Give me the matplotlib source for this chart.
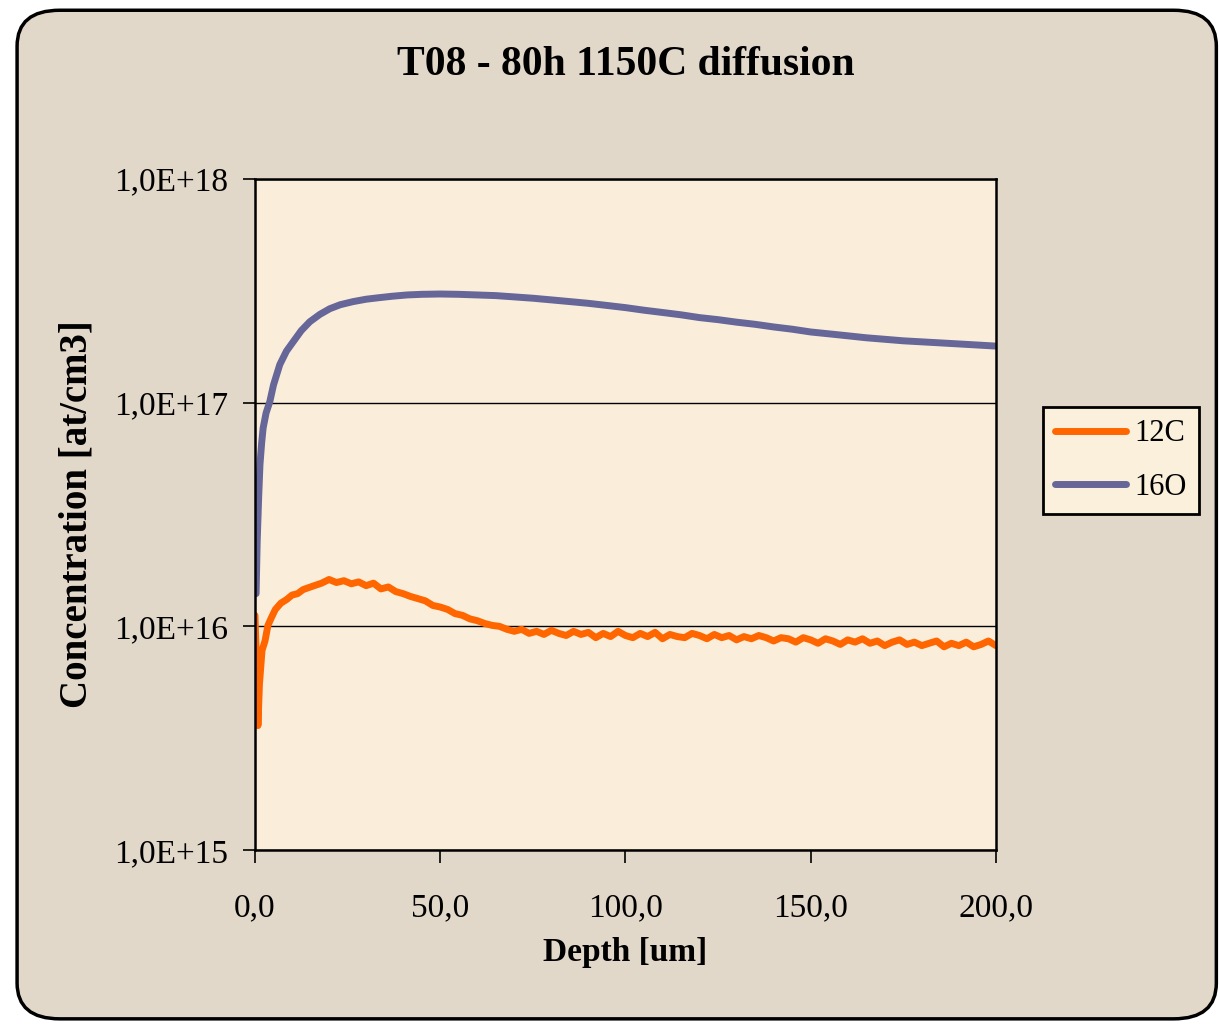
'''
T08 - 80h 1150C diffusion profile (12C and 16O), log scale
'''

import matplotlib.pyplot as plt
from matplotlib.patches import FancyBboxPatch
from matplotlib.ticker import FixedLocator, NullLocator

# 16O profile
o_depth = [0.3, 0.6, 1.0, 1.35, 1.8, 2.2, 3.0, 4.0, 5.0, 6.7, 8.5, 10.3, 12.5,
           14.8, 17.5, 20.2, 23, 26.5, 30, 33, 37, 41, 45, 50, 55, 60, 65, 70,
           75, 80, 85, 90, 95, 100, 105, 110, 115, 120, 125, 130, 135, 140,
           145, 150, 155, 160, 165, 170, 175, 180, 185, 190, 195, 200]
o_conc = [1.4e16, 2.4e16, 3.8e16, 5.3e16, 6.6e16, 7.7e16, 9.0e16, 1.01e17,
          1.2e17, 1.48e17, 1.7e17, 1.87e17, 2.1e17, 2.3e17, 2.48e17, 2.63e17,
          2.74e17, 2.83e17, 2.9e17, 2.94e17, 2.99e17, 3.03e17, 3.05e17,
          3.06e17, 3.05e17, 3.03e17, 3.01e17, 2.97e17, 2.93e17, 2.88e17,
          2.83e17, 2.78e17, 2.72e17, 2.66e17, 2.59e17, 2.53e17, 2.47e17,
          2.40e17, 2.35e17, 2.29e17, 2.24e17, 2.18e17, 2.13e17, 2.07e17,
          2.03e17, 1.99e17, 1.95e17, 1.92e17, 1.89e17, 1.87e17, 1.85e17,
          1.83e17, 1.81e17, 1.79e17]

# 12C profile (values in 1e15 at/cm3)
c_depth = [0.0, 0.4, 0.8, 1.2, 1.9, 2.7, 3.5, 4.5, 5.5, 7, 8.6, 10, 11.5, 13,
           14, 16, 18, 20, 22, 24, 26, 28, 30, 32, 34, 36, 38, 40, 42, 44, 46,
           48, 50, 52, 54, 56, 58, 60, 62, 64, 66, 68, 70, 72, 74,
           76, 78, 80, 82, 84, 86, 88, 90, 92, 94, 96, 98, 100, 102, 104, 106,
           108, 110, 112, 114, 116, 118, 120, 122, 124, 126, 128, 130, 132,
           134, 136, 138, 140, 142, 144, 146, 148, 150, 152, 154, 156, 158,
           160, 162, 164, 166, 168, 170, 172, 174, 176, 178, 180, 182, 184,
           186, 188, 190, 192, 194, 196, 198, 200]
c_conc_e15 = [11.2, 7.0, 3.6, 5.5, 7.8, 8.6, 10.1, 11.0, 11.9, 12.7, 13.2, 13.8,
              14.0, 14.6, 14.8, 15.2, 15.6, 16.2, 15.7, 16.0, 15.5, 15.8, 15.2,
              15.6, 14.7, 15.0, 14.3, 14.0, 13.6, 13.3, 13.0, 12.4, 12.2, 11.9,
              11.4, 11.2, 10.8, 10.6, 10.3, 10.1, 10.0, 9.7, 9.5, 9.7, 9.3,
              9.5, 9.2, 9.6, 9.3, 9.1, 9.5, 9.2, 9.4, 8.9, 9.3, 9.0, 9.5, 9.1,
              8.9, 9.3, 9.0, 9.4, 8.8, 9.2, 9.0, 8.9, 9.3, 9.1, 8.8, 9.2, 8.9,
              9.1, 8.7, 9.0, 8.8, 9.1, 8.9, 8.6, 8.9, 8.8, 8.5, 8.9, 8.7, 8.4,
              8.8, 8.6, 8.3, 8.7, 8.5, 8.8, 8.4, 8.6, 8.2, 8.5, 8.7, 8.3, 8.5,
              8.2, 8.4, 8.6, 8.1, 8.4, 8.2, 8.5, 8.1, 8.3, 8.6, 8.2]
c_conc = [v * 1e15 for v in c_conc_e15]

x_ticks = [0, 50, 100, 150, 200]
x_labels = ['0,0', '50,0', '100,0', '150,0', '200,0']
y_ticks = [1e15, 1e16, 1e17, 1e18]
y_labels = ['1,0E+15', '1,0E+16', '1,0E+17', '1,0E+18']

plt.rcParams['font.family'] = ['Liberation Serif', 'DejaVu Serif']

fig = plt.figure(figsize=(12.2, 10.25), dpi=100)
fig.patch.set_facecolor('white')

# rounded chart area frame, kept behind the axes
frame = FancyBboxPatch((0.014, 0.006), 0.983, 0.984,
                       boxstyle='round,pad=0,rounding_size=0.035',
                       transform=fig.transFigure, facecolor='#E2D8CA',
                       edgecolor='black', linewidth=2.5, zorder=-5)
fig.patches.append(frame)

ax = fig.add_axes([0.209, 0.1707, 0.6073, 0.6547])
ax.set_facecolor('#FAEEDA')

ax.plot(c_depth, c_conc, color='#FF6600', linewidth=5, solid_joinstyle='round',
        solid_capstyle='round', label='12C')
ax.plot(o_depth, o_conc, color='#666699', linewidth=5, solid_joinstyle='round',
        solid_capstyle='round', label='16O')

ax.set_yscale('log')
ax.set_ylim(1e15, 1e18)
ax.set_xlim(0, 200)
ax.yaxis.set_major_locator(FixedLocator(y_ticks))
ax.yaxis.set_minor_locator(NullLocator())
ax.set_yticklabels(y_labels)
ax.set_xticks(x_ticks)
ax.set_xticklabels(x_labels)
ax.tick_params(axis='both', labelsize=24, length=9, width=1.2, direction='out',
               colors='black')
ax.tick_params(axis='x', pad=22)
ax.tick_params(axis='y', pad=10)
ax.grid(axis='y', color='black', linewidth=1.0)
for s in ax.spines.values():
    s.set_linewidth(1.8)

ax.set_xlabel('Depth [um]', fontsize=24, fontweight='bold', labelpad=10)
ax.set_ylabel('Concentration [at/cm3]', fontsize=28, fontweight='bold', labelpad=14)
fig.text(0.513, 0.937, 'T08 - 80h 1150C diffusion', fontsize=30,
         fontweight='bold', ha='center', va='center')

leg = ax.legend(loc='upper left', bbox_to_anchor=(1043 / 1220, 1 - 407 / 1025),
                bbox_transform=fig.transFigure, fontsize=22, frameon=True,
                fancybox=False, handlelength=2.3, handletextpad=0.3,
                borderpad=0.4, labelspacing=0.8, borderaxespad=0)
leg.get_frame().set_facecolor('#FBF0DC')
leg.get_frame().set_edgecolor('black')
leg.get_frame().set_linewidth(2.0)
leg.get_frame().set_alpha(1)

fig.savefig('out.png', dpi=100)
